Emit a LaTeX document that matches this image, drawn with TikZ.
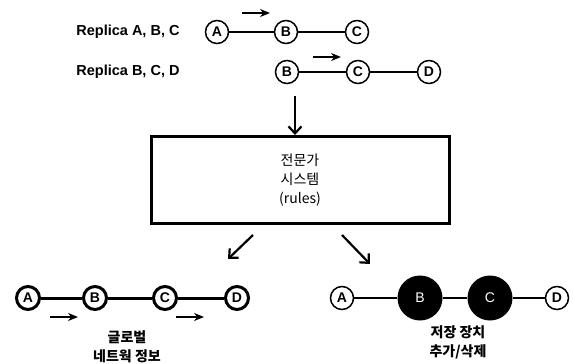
\documentclass[tikz,border=0pt]{standalone}
\usepackage{fontspec}
\setmainfont{Liberation Sans}
\newfontfamily\kr{Noto Sans CJK KR}
\usetikzlibrary{arrows.meta}
\begin{document}
\begin{tikzpicture}[x=1pt,y=-1pt,
  rep/.style={circle,draw,line width=1.5pt,minimum size=23pt,inner sep=0pt,font=\bfseries\fontsize{14}{14}\selectfont},
  repthick/.style={rep,line width=3pt},
  repfill/.style={circle,fill=black,minimum size=45pt,inner sep=0pt,text=white,font=\fontsize{14}{14}\selectfont},
  link/.style={line width=1.4pt},
  linkthick/.style={line width=3pt},
  flow/.style={line width=2pt,-{Stealth[length=10pt,width=8pt]}},
  bigarrow/.style={line width=2.2pt,-{Straight Barb[length=7pt,width=13pt,line width=2.2pt]}},
  lbl/.style={font=\bfseries\fontsize{14.5}{15}\selectfont},
  krl/.style={font=\kr\bfseries\fontsize{14}{19}\selectfont,align=center}]
\useasboundingbox (0,0) rectangle (573,364);
% row 1
\node[lbl] (t1) at (128,32) {Replica A, B, C};
\node[rep] (a1) at (217,32) {A};
\node[rep] (b1) at (286,32) {B};
\node[rep] (c1) at (357,32) {C};
\draw[link] (a1) -- (b1);
\draw[link] (b1) -- (c1);
\coordinate (f1s) at (242,13); \coordinate (f1e) at (270,13);
\draw[flow] (f1s) -- (f1e);
% row 2
\node[lbl] (t2) at (128,72) {Replica B, C, D};
\node[rep] (b2) at (287,72) {B};
\node[rep] (c2) at (358,72) {C};
\node[rep] (d2) at (429,72) {D};
\draw[link] (b2) -- (c2);
\draw[link] (c2) -- (d2);
\coordinate (f2s) at (313,57); \coordinate (f2e) at (341,57);
\draw[flow] (f2s) -- (f2e);
% expert system box
\node[draw,line width=3pt,minimum width=298pt,minimum height=87pt,align=center,font=\kr\fontsize{14}{19}\selectfont] (es) at (300,180) {전문가\\시스템\\(rules)};
\coordinate (dn) at (295,96);
\draw[bigarrow] (dn) -- (es.north -| dn);
% diagonal arrows
\coordinate (ls) at (253,235); \coordinate (le) at (228,259);
\draw[bigarrow] (ls) -- (le);
\coordinate (rs) at (342,235); \coordinate (re) at (370,264);
\draw[bigarrow] (rs) -- (re);
% bottom left
\node[repthick] (a3) at (28,298) {A};
\node[repthick] (b3) at (95,298) {B};
\node[repthick] (c3) at (165,298) {C};
\node[repthick] (d3) at (237,298) {D};
\draw[linkthick] (a3) -- (b3);
\draw[linkthick] (b3) -- (c3);
\draw[linkthick] (c3) -- (d3);
\coordinate (f3s) at (50,317); \coordinate (f3e) at (78,317);
\draw[flow] (f3s) -- (f3e);
\coordinate (f4s) at (176,317); \coordinate (f4e) at (204,317);
\draw[flow] (f4s) -- (f4e);
\node[krl] (g1) at (127,347) {글로벌\\네트웍 정보};
% bottom right
\node[rep] (a4) at (342,298) {A};
\node[repfill] (b4) at (420,298) {B};
\node[repfill] (c4) at (490,298) {C};
\node[rep] (d4) at (557,298) {D};
\draw[link] (a4) -- (b4);
\draw[link] (b4) -- (c4);
\draw[link] (c4) -- (d4);
\node[krl] (g2) at (458,342) {저장 장치\\추가/삭제};
\end{tikzpicture}
\end{document}
